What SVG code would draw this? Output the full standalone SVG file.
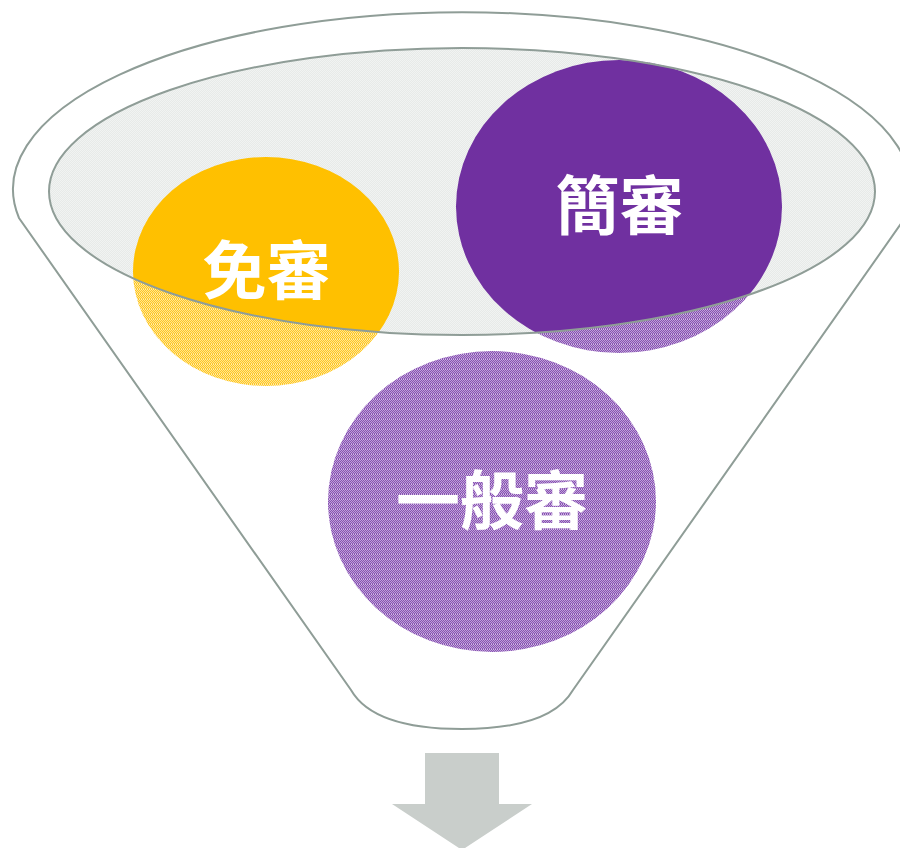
<svg xmlns="http://www.w3.org/2000/svg" width="900" height="848" viewBox="0 0 900 848">
<style>
.rim{fill:none;stroke:#8F9D97;stroke-width:2}
.lbl{font-family:"Noto Sans CJK TC","Noto Sans CJK SC",sans-serif;font-weight:bold;font-size:64px;fill:#FFFFFF;text-anchor:middle}
</style>
<defs>
<pattern id="pPurple" patternUnits="userSpaceOnUse" width="4" height="5">
<rect width="4" height="5" fill="#8652B2"/>
<rect x="0" y="0" width="1" height="1" fill="#C0A0D8"/>
<rect x="2" y="0" width="1" height="1" fill="#C0A0D8"/>
<rect x="1" y="1" width="1" height="1" fill="#C0A0D8"/>
<rect x="3" y="1" width="1" height="1" fill="#C0A0D8"/>
<rect x="0" y="2" width="1" height="1" fill="#C0A0D8"/>
<rect x="2" y="2" width="1" height="1" fill="#C0A0D8"/>
<rect x="1" y="3" width="1" height="1" fill="#C0A0D8"/>
<rect x="3" y="3" width="1" height="1" fill="#C0A0D8"/>
<rect x="1" y="4" width="1" height="1" fill="#D2BDE3"/>
<rect x="3" y="4" width="1" height="1" fill="#D2BDE3"/>
</pattern>
<pattern id="pYellow" patternUnits="userSpaceOnUse" width="4" height="5">
<rect width="4" height="5" fill="#FFC820"/>
<rect x="0" y="0" width="1" height="1" fill="#FFE393"/>
<rect x="2" y="0" width="1" height="1" fill="#FFE393"/>
<rect x="1" y="1" width="1" height="1" fill="#FFE393"/>
<rect x="3" y="1" width="1" height="1" fill="#FFE393"/>
<rect x="0" y="2" width="1" height="1" fill="#FFE393"/>
<rect x="2" y="2" width="1" height="1" fill="#FFE393"/>
<rect x="1" y="3" width="1" height="1" fill="#FFE393"/>
<rect x="3" y="3" width="1" height="1" fill="#FFE393"/>
<rect x="1" y="4" width="1" height="1" fill="#FFEBB5"/>
<rect x="3" y="4" width="1" height="1" fill="#FFEBB5"/>
</pattern>
<pattern id="pGray" patternUnits="userSpaceOnUse" width="2" height="2">
<rect width="2" height="2" fill="#E7EAE8"/>
<rect x="0" y="0" width="1" height="1" fill="#F1F3F2"/>
<rect x="1" y="1" width="1" height="1" fill="#F1F3F2"/>
</pattern>
<clipPath id="inner">
<ellipse cx="462" cy="191.5" rx="413" ry="143.5"/>
</clipPath>
</defs>

<g id="funnel">
<path class="rim" d="M19,218 A449,177 0 1 1 905,218 L573,690 C558,716 520,729 462,729 C404,729 366,716 351,690 Z" style="fill:#FFFFFF"/>
</g>

<g id="node-mianshen-back">
<ellipse cx="266" cy="271.5" rx="133" ry="114.5" fill="url(#pYellow)"/>
</g>
<g id="node-jianshen-back">
<ellipse cx="619" cy="206.5" rx="163" ry="146.5" fill="url(#pPurple)"/>
</g>

<g id="funnel-top">
<ellipse cx="462" cy="191.5" rx="413" ry="143.5" fill="url(#pGray)"/>
</g>

<g id="node-mianshen" clip-path="url(#inner)">
<ellipse cx="266" cy="271.5" rx="133" ry="114.5" fill="#FFC000"/>
</g>
<g id="node-jianshen" clip-path="url(#inner)">
<ellipse cx="619" cy="206.5" rx="163" ry="146.5" fill="#7030A0"/>
</g>

<g id="funnel-top-rim">
<ellipse class="rim" cx="462" cy="191.5" rx="413" ry="143.5"/>
</g>

<g id="node-yiban">
<ellipse cx="492" cy="501.5" rx="164" ry="150.5" fill="url(#pPurple)"/>
<text class="lbl" x="492" y="524">一般審</text>
</g>

<g id="labels">
<text class="lbl" x="266.5" y="294">免審</text>
<text class="lbl" x="619.5" y="229">簡審</text>
</g>

<g id="connectors">
<path d="M425,753 L499,753 L499,804 L532,804 L462,850 L392,804 L425,804 Z" fill="#C9CECB"/>
</g>
</svg>
